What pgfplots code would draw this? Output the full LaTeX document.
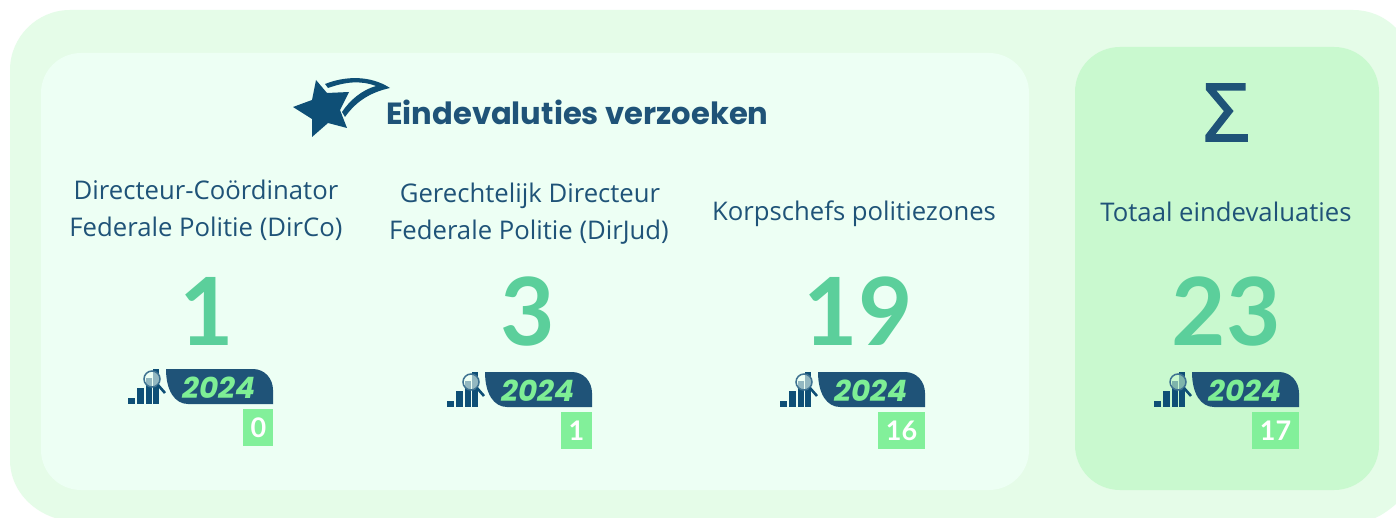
\documentclass[border=0pt]{standalone}
\usepackage{fontspec}
\setmainfont{Open Sans}
\newfontfamily\numfont{Lato}
\newfontfamily\titlefont{Poppins}
\newfontface\sigfont[FakeBold=2.2]{Open Sans}
\usepackage{pgfplots}
\pgfplotsset{compat=1.18}
\definecolor{outer}{HTML}{E5FCE8}
\definecolor{inner}{HTML}{EDFFF4}
\definecolor{rightp}{HTML}{C9F9CF}
\definecolor{navy}{HTML}{1F5378}
\definecolor{stary}{HTML}{0E4F76}
\definecolor{num}{HTML}{5BCF9B}
\definecolor{badge}{HTML}{82F09A}
\definecolor{yeartx}{HTML}{7EEE95}
\newcommand{\fs}[1]{\fontsize{#1}{#1}\selectfont}
% R = right edge of the tab, T = top of the tab, L = left edge of the badge
\newcommand{\tab}[4]{%
  \fill[navy] (axis cs:{#1-107},#2) -- (axis cs:{#1-20},#2)
     .. controls (axis cs:{#1-8},#2) and (axis cs:#1,{#2+10}) .. (axis cs:#1,{#2+21})
     -- (axis cs:#1,{#2+35}) -- (axis cs:{#1-85},{#2+35})
     .. controls (axis cs:{#1-98},{#2+35}) and (axis cs:{#1-107},{#2+22}) .. (axis cs:{#1-107},#2) -- cycle;
  \node[anchor=base,text=yeartx,font=\titlefont\fs{29.5}\bfseries\itshape] at (axis cs:{#1-54},{#2+29.5}) {2024};
  \fill[stary] (axis cs:{#1-145},{#2+29}) rectangle (axis cs:{#1-138},{#2+35});
  \fill[stary] (axis cs:{#1-136},{#2+19}) rectangle (axis cs:{#1-129},{#2+35});
  \fill[stary] (axis cs:{#1-127},{#2+9}) rectangle (axis cs:{#1-121},{#2+35});
  \fill[stary] (axis cs:{#1-120},{#2}) rectangle (axis cs:{#1-114},{#2+35});
  \fill[#4,opacity=.6] (axis cs:{#1-121},{#2+10}) circle[radius=8];
  \draw[stary!80,line width=1.5pt] (axis cs:{#1-121},{#2+10}) circle[radius=8];
  \draw[stary,line width=2.6pt] (axis cs:{#1-115},{#2+16}) -- (axis cs:{#1-108},{#2+24});
  \fill[badge] (axis cs:#3,{#2+40}) rectangle (axis cs:#1,{#2+77});
}
\begin{document}
\begin{tikzpicture}
\begin{axis}[
  scale only axis, width=1396pt, height=518pt,
  xmin=0, xmax=1396, ymin=0, ymax=518, y dir=reverse,
  hide axis, clip=true, clip mode=global,
]
\fill[white] (axis cs:0,0) rectangle (axis cs:1396,518);
\fill[outer] (axis cs:70,10) -- (axis cs:1353,10) .. controls (axis cs:1369,10) and (axis cs:1384,16) .. (axis cs:1396,28)
  -- (axis cs:1396,504) .. controls (axis cs:1389,510) and (axis cs:1382,515) .. (axis cs:1375,518)
  -- (axis cs:55,518) .. controls (axis cs:30,510) and (axis cs:10,488) .. (axis cs:10,460)
  -- (axis cs:10,70) .. controls (axis cs:10,37) and (axis cs:37,10) .. (axis cs:70,10) -- cycle;
\fill[inner,rounded corners=40pt] (axis cs:41,53) rectangle (axis cs:1029,490);
\fill[rightp,rounded corners=45pt] (axis cs:1075,47) rectangle (axis cs:1379,490);
% star
\fill[stary] (axis cs:316,80) -- (axis cs:327,93) -- (axis cs:349,92) -- (axis cs:340,110) -- (axis cs:347,128) -- (axis cs:328,123) -- (axis cs:312,137) -- (axis cs:312,119) -- (axis cs:293,107) -- (axis cs:312,100) -- cycle;
\fill[stary] (axis cs:325,84) .. controls (axis cs:345,76) and (axis cs:370,75) .. (axis cs:390,88)
  .. controls (axis cs:372,92) and (axis cs:357,100) .. (axis cs:345,117) -- (axis cs:342,112)
  .. controls (axis cs:350,100) and (axis cs:362,90) .. (axis cs:376,86)
  .. controls (axis cs:360,80) and (axis cs:345,82) .. (axis cs:328,88) -- cycle;
\node[anchor=base west,inner sep=0pt,text=navy,font=\titlefont\fs{30.6}\bfseries] at (axis cs:386,124.5) {Eindevaluties verzoeken};
% labels
\node[anchor=base,text=navy,font=\fs{25.7}] at (axis cs:206,199.5) {Directeur-Coördinator};
\node[anchor=base,text=navy,font=\fs{25.7}] at (axis cs:206,236.5) {Federale Politie (DirCo)};
\node[anchor=base,text=navy,font=\fs{25.7}] at (axis cs:530,202.5) {Gerechtelijk Directeur};
\node[anchor=base,text=navy,font=\fs{25.7}] at (axis cs:529,239.5) {Federale Politie (DirJud)};
\node[anchor=base,text=navy,font=\fs{25.7}] at (axis cs:854,221) {Korpschefs politiezones};
\node[anchor=base,text=navy,font=\fs{25.7}] at (axis cs:1226,222) {Totaal eindevaluaties};
\node[anchor=base,text=navy,font=\sigfont\fs{80}] at (axis cs:1226,141) {Σ};
\tab{273}{369}{243}{inner}
\tab{592}{372}{561}{inner}
\tab{925}{372}{878}{inner}
\tab{1299}{372}{1252}{rightp}
% current values
\addplot[draw=none, mark=none, point meta=explicit symbolic,
  nodes near coords, nodes near coords style={anchor=base,yshift=0pt,text=num,font=\numfont\fs{94}\bfseries}]
  table[meta=v] {
x y v
207 345 1
528 345 3
858 345 19
1226 345 23
};
% 2024 values
\addplot[draw=none, mark=none, point meta=explicit symbolic,
  nodes near coords, nodes near coords style={anchor=base,yshift=0pt,text=white,font=\numfont\fs{27}\bfseries}]
  table[meta=v] {
x y v
258.5 437 0
576.5 440 1
901.5 440 16
1275.5 440 17
};
\end{axis}
\end{tikzpicture}
\end{document}
